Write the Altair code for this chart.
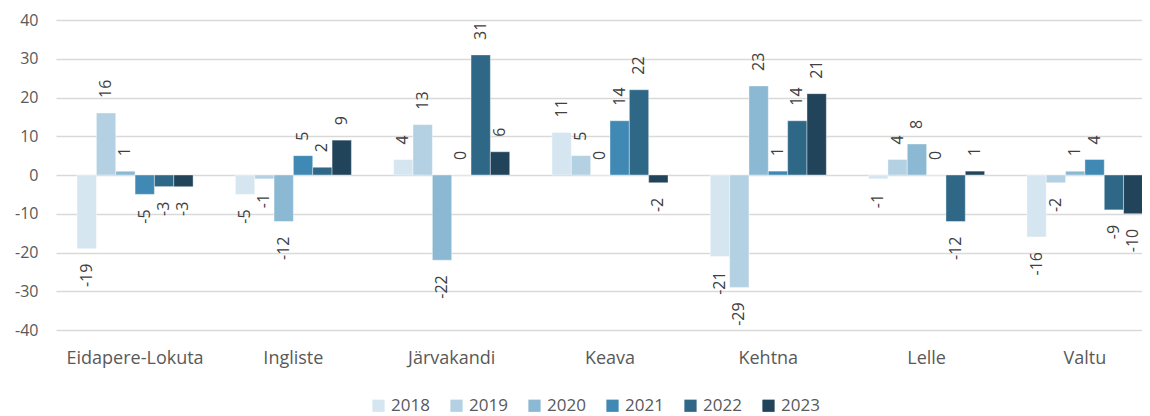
import altair as alt
import pandas as pd

munis = ["Eidapere-Lokuta", "Ingliste", "Järvakandi", "Keava", "Kehtna", "Lelle", "Valtu"]
years = ["2018", "2019", "2020", "2021", "2022", "2023"]
colors = ["#d6e6f0", "#b3d1e3", "#8bb9d4", "#3f89b4", "#2f6886", "#21445b"]

v2018 = [-19, -5, 4, 11, -21, -1, -16]
v2019 = [16, -1, 13, 5, -29, 4, -2]
v2020 = [1, -12, -22, 0, 23, 8, 1]
v2021 = [-5, 5, 0, 14, 1, 0, 4]
v2022 = [-3, 2, 31, 22, 14, -12, -9]
v2023 = [-3, 9, 6, -2, 21, 1, -10]
series = [v2018, v2019, v2020, v2021, v2022, v2023]

rows = []
for y, vals in zip(years, series):
    for m, v in zip(munis, vals):
        rows.append({"muni": m, "year": y, "value": v})
df = pd.DataFrame(rows)

FONT = "Open Sans"
TXT = "#595959"

x = alt.X("muni:N", sort=munis, title=None,
          scale=alt.Scale(range=[0, 1108], paddingInner=0.267, paddingOuter=0.133),
          axis=alt.Axis(labelAngle=0, domain=False, ticks=False, labelPadding=19,
                        labelFontSize=18, labelColor=TXT, labelFont=FONT))
xo = alt.XOffset("year:N", sort=years)
y = alt.Y("value:Q", title=None,
          scale=alt.Scale(domain=[-40, 40], nice=False),
          axis=alt.Axis(values=[-40, -30, -20, -10, 0, 10, 20, 30, 40], domain=False, ticks=False,
                        labelExpr="'' + datum.value",
                        labelPadding=18, labelFontSize=16, labelColor=TXT, labelFont=FONT,
                        gridColor="#d9d9d9", gridWidth=1.5))

base = alt.Chart(df).transform_calculate(label="'' + datum.value")

bars = base.mark_bar(stroke="white", strokeWidth=0.4).encode(
    x=x, xOffset=xo, y=y,
    color=alt.Color("year:N", sort=years, title=None,
                    scale=alt.Scale(domain=years, range=colors),
                    legend=alt.Legend(orient="none", legendX=314, legendY=377,
                                      direction="horizontal", symbolType="square",
                                      symbolSize=150, symbolStrokeWidth=0, labelFontSize=17,
                                      labelColor=TXT, labelFont=FONT, columnPadding=18,
                                      symbolOpacity=1)),
)

pos = base.transform_filter("datum.value >= 0").mark_text(
    angle=270, align="left", baseline="middle", dx=15, fontSize=16, color="#404040", font=FONT
).encode(x=x, xOffset=xo, y=y, text=alt.Text("label:N"))

neg = base.transform_filter("datum.value < 0").mark_text(
    angle=270, align="right", baseline="middle", dx=-15, fontSize=16, color="#404040", font=FONT
).encode(x=x, xOffset=xo, y=y, text=alt.Text("label:N"))

chart = alt.layer(bars, pos, neg).properties(
    width=1086, height=310,
    autosize=alt.AutoSizeParams(type="none"),
    padding={"left": 48, "top": 12, "right": 0, "bottom": 86},
).configure_view(stroke=None)

chart.save("out.html", embed_options={"renderer": "svg", "actions": False})
